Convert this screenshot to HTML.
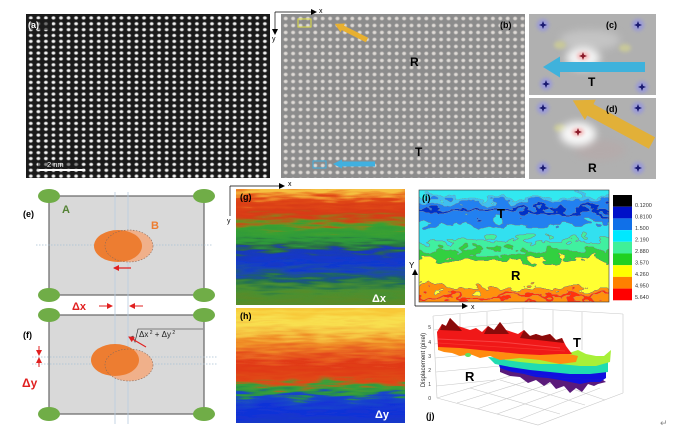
<!DOCTYPE html>
<html><head><meta charset="utf-8"><style>
html,body{margin:0;padding:0;background:#fff;}
svg{display:block;}
text{font-family:"Liberation Sans",Arial,sans-serif;}
</style></head><body>
<svg width="673" height="434" viewBox="0 0 673 434" xmlns="http://www.w3.org/2000/svg">
<defs>
 <radialGradient id="dA"><stop offset="0" stop-color="#fff"/><stop offset="0.45" stop-color="#ececec"/><stop offset="0.75" stop-color="#707070"/><stop offset="1" stop-color="#1c1c1c" stop-opacity="0"/></radialGradient>
 <pattern id="latA" x="27" y="15" width="7.55" height="5.86" patternUnits="userSpaceOnUse">
   <rect width="7.55" height="5.86" fill="#1a1a1a"/>
   <ellipse cx="3.8" cy="2.9" rx="2.7" ry="2.3" fill="url(#dA)"/>
 </pattern>
 <radialGradient id="dB"><stop offset="0" stop-color="#e8e4e0"/><stop offset="0.55" stop-color="#cfcbc7"/><stop offset="1" stop-color="#8e8e8e" stop-opacity="0"/></radialGradient>
 <pattern id="latB" x="282" y="15" width="7.4" height="7.0" patternUnits="userSpaceOnUse">
   <rect width="7.4" height="7.0" fill="#8c8c8c"/>
   <ellipse cx="3.7" cy="3.5" rx="2.9" ry="2.7" fill="url(#dB)"/>
 </pattern>

 <linearGradient id="gG" gradientUnits="userSpaceOnUse" x1="0" y1="189" x2="0" y2="305">
  <stop offset="0" stop-color="#f5c040"/><stop offset="0.05" stop-color="#ee8a2a"/>
  <stop offset="0.1" stop-color="#e04818"/><stop offset="0.2" stop-color="#d83a14"/>
  <stop offset="0.26" stop-color="#b85a18"/><stop offset="0.3" stop-color="#7a8a20"/>
  <stop offset="0.34" stop-color="#3aa032"/><stop offset="0.44" stop-color="#2e9a3a"/>
  <stop offset="0.5" stop-color="#2a6a48"/><stop offset="0.54" stop-color="#1a3ab8"/>
  <stop offset="0.64" stop-color="#1038d0"/><stop offset="0.7" stop-color="#1a48b0"/>
  <stop offset="0.76" stop-color="#1a5a78"/><stop offset="0.8" stop-color="#2a7848"/>
  <stop offset="0.88" stop-color="#4a9030"/><stop offset="1" stop-color="#5a8a28"/>
 </linearGradient>
 <linearGradient id="gH" gradientUnits="userSpaceOnUse" x1="0" y1="308" x2="0" y2="423">
  <stop offset="0" stop-color="#f8c838"/><stop offset="0.12" stop-color="#f8e050"/>
  <stop offset="0.22" stop-color="#f5c040"/><stop offset="0.3" stop-color="#f09028"/>
  <stop offset="0.4" stop-color="#e86020"/><stop offset="0.5" stop-color="#e03818"/>
  <stop offset="0.62" stop-color="#e04818"/><stop offset="0.66" stop-color="#a07020"/>
  <stop offset="0.69" stop-color="#3aa038"/><stop offset="0.74" stop-color="#28904a"/>
  <stop offset="0.78" stop-color="#1a48c8"/><stop offset="0.9" stop-color="#1030d8"/>
  <stop offset="1" stop-color="#1838c8"/>
 </linearGradient>
 <linearGradient id="gI" gradientUnits="userSpaceOnUse" x1="0" y1="190" x2="0" y2="302">
  <stop offset="0" stop-color="#30e8f0"/><stop offset="0.06" stop-color="#30e8f0"/>
  <stop offset="0.06" stop-color="#40c0f0"/><stop offset="0.1" stop-color="#40c0f0"/>
  <stop offset="0.1" stop-color="#2080f0"/><stop offset="0.17" stop-color="#2080f0"/>
  <stop offset="0.17" stop-color="#0030c8"/><stop offset="0.2" stop-color="#0030c8"/>
  <stop offset="0.2" stop-color="#2080f0"/><stop offset="0.3" stop-color="#2080f0"/>
  <stop offset="0.3" stop-color="#30e0f0"/><stop offset="0.45" stop-color="#30e0f0"/>
  <stop offset="0.45" stop-color="#40f0a0"/><stop offset="0.54" stop-color="#40f0a0"/>
  <stop offset="0.54" stop-color="#30d040"/><stop offset="0.62" stop-color="#30d040"/>
  <stop offset="0.62" stop-color="#ffff30"/><stop offset="0.88" stop-color="#ffff30"/>
  <stop offset="0.88" stop-color="#ff9010"/><stop offset="0.94" stop-color="#ff9010"/>
  <stop offset="0.94" stop-color="#ff3010"/><stop offset="0.97" stop-color="#ff3010"/>
  <stop offset="0.97" stop-color="#ff9010"/><stop offset="1" stop-color="#ff9010"/>
 </linearGradient>

 <filter id="fG" filterUnits="userSpaceOnUse" x="220" y="175" width="200" height="140">
  <feTurbulence type="fractalNoise" baseFrequency="0.035 0.3" numOctaves="2" seed="2" result="n"/>
  <feDisplacementMap in="SourceGraphic" in2="n" scale="24" xChannelSelector="R" yChannelSelector="G"/>
 </filter>
 <filter id="fH" filterUnits="userSpaceOnUse" x="220" y="295" width="200" height="140">
  <feTurbulence type="fractalNoise" baseFrequency="0.035 0.3" numOctaves="2" seed="7" result="n"/>
  <feDisplacementMap in="SourceGraphic" in2="n" scale="24" xChannelSelector="R" yChannelSelector="G"/>
 </filter>
 <filter id="fI" filterUnits="userSpaceOnUse" x="405" y="175" width="220" height="140">
  <feTurbulence type="fractalNoise" baseFrequency="0.055 0.1" numOctaves="3" seed="4" result="n"/>
  <feDisplacementMap in="SourceGraphic" in2="n" scale="28" xChannelSelector="R" yChannelSelector="G" result="d"/>
  <feConvolveMatrix in="d" order="3" kernelMatrix="0 -1 0 -1 4 -1 0 -1 0" preserveAlpha="true" result="e"/>
  <feColorMatrix in="e" type="matrix" values="0 0 0 0 0.2  0 0 0 0 0.2  0 0 0 0 0.2  1.5 1.5 1.5 0 0" result="lines"/>
  <feComposite in="lines" in2="d" operator="over"/>
 </filter>
 <filter id="bl4" x="-50%" y="-50%" width="200%" height="200%"><feGaussianBlur stdDeviation="4"/></filter>
 <filter id="bl2" x="-50%" y="-50%" width="200%" height="200%"><feGaussianBlur stdDeviation="1.8"/></filter>

 <clipPath id="cG"><rect x="236" y="189" width="169" height="116"/></clipPath>
 <clipPath id="cH"><rect x="236" y="308" width="169" height="115"/></clipPath>
 <clipPath id="cI"><rect x="419" y="190" width="190" height="112"/></clipPath>
 <clipPath id="cC"><rect x="529" y="14" width="127" height="81"/></clipPath>
 <clipPath id="cD"><rect x="529" y="98" width="127" height="81"/></clipPath>
 <path id="star" d="M0,-4 L1.1,-1.1 L4,0 L1.1,1.1 L0,4 L-1.1,1.1 L-4,0 L-1.1,-1.1Z"/>
 <marker id="ah" markerWidth="6" markerHeight="6" refX="5" refY="3" orient="auto" markerUnits="userSpaceOnUse"><path d="M0,0 L6,3 L0,6Z" fill="#000"/></marker>
 <marker id="ahr" markerWidth="6" markerHeight="6" refX="5" refY="3" orient="auto" markerUnits="userSpaceOnUse"><path d="M0,0 L6,3 L0,6Z" fill="#e02020"/></marker>
</defs>

<rect width="673" height="434" fill="#fff"/>

<!-- (a) -->
<rect x="26" y="14" width="244" height="164" fill="url(#latA)"/>
<rect x="27" y="19" width="25" height="11" fill="#1a1a1a" opacity="0.6"/>
<text x="28" y="28" font-size="9" font-weight="bold" fill="#fff">(a)</text>
<rect x="38" y="162" width="40" height="7" fill="#1a1a1a" opacity="0.5"/>
<text x="47" y="167" font-size="7.5" fill="#fff">2 nm</text>
<rect x="39" y="169" width="46" height="2" fill="#fff"/>

<!-- (b) -->
<rect x="281" y="14" width="244" height="164" fill="url(#latB)"/>
<line x1="275" y1="12" x2="316" y2="12" stroke="#000" stroke-width="0.7" marker-end="url(#ah)"/>
<line x1="275" y1="12" x2="275" y2="34" stroke="#000" stroke-width="0.7" marker-end="url(#ah)"/>
<text x="319" y="13" font-size="7">x</text>
<text x="272" y="41" font-size="7">y</text>
<rect x="298" y="19" width="13" height="8" fill="none" stroke="#dede40" stroke-width="1"/>
<rect x="313" y="161" width="13" height="7" fill="none" stroke="#40b0e0" stroke-width="1"/>
<g transform="translate(367,40) rotate(206.6)"><path d="M0,-2.5 L27,-2.5 L27,-5 L36,0 L27,5 L27,2.5 L0,2.5Z" fill="#e8b030"/></g>
<g transform="translate(375,164) rotate(180)"><path d="M0,-2.5 L33,-2.5 L33,-4.5 L42,0 L33,4.5 L33,2.5 L0,2.5Z" fill="#40b0e0"/></g>
<text x="500" y="28" font-size="9" font-weight="bold">(b)</text>
<text x="410" y="66" font-size="12" font-weight="bold">R</text>
<text x="415" y="156" font-size="12" font-weight="bold">T</text>

<!-- (c) -->
<g clip-path="url(#cC)">
 <rect x="529" y="14" width="127" height="81" fill="#b0b0b0"/>
 <ellipse cx="590" cy="40" rx="30" ry="10" fill="#c4c4c4" filter="url(#bl4)"/>
 <ellipse cx="560" cy="45" rx="6" ry="4" fill="#c8c89a" filter="url(#bl2)"/>
 <ellipse cx="625" cy="48" rx="6" ry="4" fill="#c8c89a" filter="url(#bl2)"/>
 <ellipse cx="583" cy="58" rx="17" ry="11" fill="#fff" opacity="0.85" filter="url(#bl4)"/>
 <ellipse cx="583" cy="56" rx="6" ry="4" fill="#f4b8b8" filter="url(#bl2)"/>
 <circle cx="543" cy="25" r="6" fill="#9a9ad8" filter="url(#bl2)"/>
 <circle cx="638" cy="25" r="6" fill="#9a9ad8" filter="url(#bl2)"/>
 <circle cx="546" cy="84" r="6" fill="#9a9ad8" filter="url(#bl2)"/>
 <circle cx="642" cy="87" r="6" fill="#9a9ad8" filter="url(#bl2)"/>
 <path d="M543,67 L560,56.5 L560,62 L645,62 L645,72 L560,72 L560,77.5Z" fill="#3fb2dc"/>
 <use href="#star" x="543" y="25" fill="#1a1a70"/>
 <use href="#star" x="638" y="25" fill="#1a1a70"/>
 <use href="#star" x="546" y="84" fill="#1a1a70"/>
 <use href="#star" x="642" y="87" fill="#1a1a70"/>
 <use href="#star" x="583" y="56" fill="#8a1a2a"/>
</g>
<text x="606" y="28" font-size="9" font-weight="bold">(c)</text>
<text x="588" y="86" font-size="12" font-weight="bold">T</text>

<!-- (d) -->
<g clip-path="url(#cD)">
 <rect x="529" y="98" width="127" height="81" fill="#b0b0b0"/>
 <ellipse cx="600" cy="150" rx="25" ry="10" fill="#b8a8a8" opacity="0.6" filter="url(#bl4)"/>
 <ellipse cx="560" cy="128" rx="6" ry="4" fill="#c8c89a" filter="url(#bl2)"/>
 <ellipse cx="578" cy="134" rx="18" ry="12" fill="#fff" opacity="0.9" filter="url(#bl4)"/>
 <ellipse cx="578" cy="132" rx="6" ry="4" fill="#f4b8b8" filter="url(#bl2)"/>
 <circle cx="543" cy="108" r="6" fill="#9a9ad8" filter="url(#bl2)"/>
 <circle cx="638" cy="108" r="6" fill="#9a9ad8" filter="url(#bl2)"/>
 <circle cx="543" cy="168" r="6" fill="#9a9ad8" filter="url(#bl2)"/>
 <circle cx="638" cy="168" r="6" fill="#9a9ad8" filter="url(#bl2)"/>
 <g transform="translate(652,143) rotate(208.3)"><path d="M0,-6.5 L70,-6.5 L70,-11.5 L90,0 L70,11.5 L70,6.5 L0,6.5Z" fill="#e2b038"/></g>
 <use href="#star" x="543" y="108" fill="#1a1a70"/>
 <use href="#star" x="638" y="108" fill="#1a1a70"/>
 <use href="#star" x="543" y="168" fill="#1a1a70"/>
 <use href="#star" x="638" y="168" fill="#1a1a70"/>
 <use href="#star" x="578" y="132" fill="#8a1a2a"/>
</g>
<text x="606" y="112" font-size="9" font-weight="bold">(d)</text>
<text x="588" y="172" font-size="12" font-weight="bold">R</text>

<!-- (e) & (f) -->
<rect x="49" y="196" width="155" height="99" fill="#d9d9d9" stroke="#707070" stroke-width="1.3"/>
<rect x="49" y="315" width="155" height="99" fill="#d9d9d9" stroke="#707070" stroke-width="1.3"/>
<line x1="115" y1="192" x2="115" y2="424" stroke="#b8cce0" stroke-width="0.8"/>
<line x1="128" y1="192" x2="128" y2="424" stroke="#b8cce0" stroke-width="0.8"/>
<line x1="36" y1="245" x2="212" y2="245" stroke="#a8c0d4" stroke-width="0.7" stroke-dasharray="1.5,1.5"/>
<line x1="32" y1="357" x2="217" y2="357" stroke="#a8c0d4" stroke-width="0.7" stroke-dasharray="1.5,1.5"/>
<line x1="32" y1="364" x2="217" y2="364" stroke="#a8c0d4" stroke-width="0.7" stroke-dasharray="1.5,1.5"/>
<g fill="#70ad47">
 <ellipse cx="49" cy="196" rx="11" ry="7"/><ellipse cx="204" cy="196" rx="11" ry="7"/>
 <ellipse cx="49" cy="295" rx="11" ry="7"/><ellipse cx="204" cy="295" rx="11" ry="7"/>
 <ellipse cx="49" cy="315" rx="11" ry="7"/><ellipse cx="204" cy="315" rx="11" ry="7"/>
 <ellipse cx="49" cy="414" rx="11" ry="7"/><ellipse cx="204" cy="414" rx="11" ry="7"/>
</g>
<ellipse cx="129" cy="246" rx="24" ry="16" fill="#f0b08a"/>
<ellipse cx="118" cy="246" rx="24" ry="16" fill="#ed7d31"/>
<ellipse cx="129" cy="246" rx="24" ry="16" fill="none" stroke="#8a6a5a" stroke-width="0.6" stroke-dasharray="1.5,1.5"/>
<ellipse cx="129" cy="365" rx="24" ry="16" fill="#f0b08a"/>
<ellipse cx="115" cy="360" rx="24" ry="16" fill="#ed7d31"/>
<ellipse cx="129" cy="365" rx="24" ry="16" fill="none" stroke="#8a6a5a" stroke-width="0.6" stroke-dasharray="1.5,1.5"/>
<line x1="131" y1="268" x2="114" y2="268" stroke="#e02020" stroke-width="1.2" marker-end="url(#ahr)"/>
<text x="23" y="217" font-size="9" font-weight="bold">(e)</text>
<text x="62" y="213" font-size="11" font-weight="bold" fill="#548235">A</text>
<text x="151" y="229" font-size="11" font-weight="bold" fill="#ed7d31">B</text>
<text x="72" y="310" font-size="11" font-weight="bold" fill="#e02020">Δx</text>
<line x1="99" y1="306" x2="112" y2="306" stroke="#e02020" stroke-width="1" marker-end="url(#ahr)"/>
<line x1="143" y1="306" x2="130" y2="306" stroke="#e02020" stroke-width="1" marker-end="url(#ahr)"/>
<text x="23" y="338" font-size="9" font-weight="bold">(f)</text>
<text x="22" y="387" font-size="12" font-weight="bold" fill="#e02020">Δy</text>
<line x1="39" y1="346" x2="39" y2="355" stroke="#e02020" stroke-width="1" marker-end="url(#ahr)"/>
<line x1="39" y1="367" x2="39" y2="358" stroke="#e02020" stroke-width="1" marker-end="url(#ahr)"/>
<path d="M131,337 L133,336 L135,342 L138,329 L203,329" fill="none" stroke="#222" stroke-width="0.6"/>
<text x="139" y="337" font-family="Liberation Serif,serif" font-size="8" fill="#222">Δx<tspan font-size="5" dy="-3"> 2</tspan><tspan dy="3"> + Δy</tspan><tspan font-size="5" dy="-3"> 2</tspan></text>
<line x1="146" y1="347" x2="129" y2="337" stroke="#e02020" stroke-width="1.1" marker-end="url(#ahr)"/>

<!-- (g) -->
<g clip-path="url(#cG)"><rect x="220" y="175" width="200" height="140" fill="url(#gG)" filter="url(#fG)"/></g>
<line x1="230" y1="186" x2="284" y2="186" stroke="#000" stroke-width="0.7" marker-end="url(#ah)"/>
<line x1="230" y1="186" x2="230" y2="216" stroke="#000" stroke-width="0.7"/>
<text x="288" y="186" font-size="7">x</text>
<text x="227" y="223" font-size="7">y</text>
<text x="240" y="200" font-size="9" font-weight="bold">(g)</text>
<text x="372" y="302" font-size="11" font-weight="bold" fill="#fff">Δx</text>

<!-- (h) -->
<g clip-path="url(#cH)"><rect x="220" y="295" width="200" height="140" fill="url(#gH)" filter="url(#fH)"/></g>
<text x="240" y="319" font-size="9" font-weight="bold">(h)</text>
<text x="375" y="418" font-size="11" font-weight="bold" fill="#fff">Δy</text>

<!-- (i) -->
<g clip-path="url(#cI)"><rect x="405" y="175" width="220" height="140" fill="url(#gI)" filter="url(#fI)"/></g>
<rect x="419" y="190" width="190" height="112" fill="none" stroke="#333" stroke-width="0.6"/>
<text x="422" y="201" font-size="9" font-weight="bold">(i)</text>
<text x="497" y="218" font-size="13" font-weight="bold">T</text>
<text x="511" y="280" font-size="13" font-weight="bold">R</text>
<line x1="415" y1="306" x2="415" y2="270" stroke="#000" stroke-width="0.7" marker-end="url(#ah)"/>
<line x1="415" y1="306" x2="467" y2="306" stroke="#000" stroke-width="0.7" marker-end="url(#ah)"/>
<text x="409" y="268" font-size="8">Y</text>
<text x="471" y="309" font-size="7">x</text>
<g>
 <rect x="613" y="195" width="19" height="11.7" fill="#000"/>
 <rect x="613" y="206.7" width="19" height="11.7" fill="#0010c8"/>
 <rect x="613" y="218.4" width="19" height="11.7" fill="#1070e8"/>
 <rect x="613" y="230.1" width="19" height="11.7" fill="#00e8ff"/>
 <rect x="613" y="241.8" width="19" height="11.7" fill="#40f098"/>
 <rect x="613" y="253.5" width="19" height="11.7" fill="#20d020"/>
 <rect x="613" y="265.2" width="19" height="11.7" fill="#ffff00"/>
 <rect x="613" y="276.9" width="19" height="11.7" fill="#ff8000"/>
 <rect x="613" y="288.6" width="19" height="11.7" fill="#ff0000"/>
</g>
<g font-size="5.5" fill="#333">
 <text x="635" y="207">0.1200</text><text x="635" y="218.5">0.8100</text>
 <text x="635" y="230">1.500</text><text x="635" y="241.5">2.190</text>
 <text x="635" y="253">2.880</text><text x="635" y="264.5">3.570</text>
 <text x="635" y="276">4.260</text><text x="635" y="287.5">4.950</text>
 <text x="635" y="299">5.640</text>
</g>

<!-- (j) 3D surface -->
<g stroke="#c8c8c8" stroke-width="0.6" fill="none">
 <path d="M433,316 L523,308 L623,314"/>
 <path d="M433,316 L437,398"/>
 <path d="M623,314 L623,393"/>
 <path d="M437,398 L538,425 L623,393"/>
 <path d="M460,314 L460,340 M487,312 L487,335 M523,308 L523,340 M553,310 L553,345 M582,312 L582,350"/>
 <path d="M434,330 L523,322 M434,344 L523,336 M435,358 L523,350 M436,372 L500,366 M436,386 L495,380"/>
 <path d="M437,398 L523,372 M457,403 L540,377 M477,409 L560,380 M497,414 L580,384 M518,420 L600,388"/>
 <path d="M470,388 L560,414 M500,380 L585,405 M523,372 L605,400"/>
</g>
<g font-size="5" fill="#333" text-anchor="end">
 <text x="431" y="400">0</text><text x="431" y="386">1</text><text x="431" y="372">2</text>
 <text x="431" y="358">3</text><text x="431" y="344">4</text><text x="431" y="329">5</text>
</g>
<text transform="translate(425,360) rotate(-90)" font-size="6" text-anchor="middle" fill="#222">Displacement (pixel)</text>
<path d="M500,368 L520,372 L560,376 L600,378 L606,382 L598,384 L594,386 L588,384 L582,392 L576,388 L570,393 L564,386 L556,389 L550,382 L544,386 L536,380 L528,383 L520,377 L510,376 L500,372 Z" fill="#5a1a7a"/>
<path d="M498,362 L530,366 L570,370 L606,370 L606,378 L600,382 L590,382 L580,384 L570,382 L560,380 L548,378 L536,377 L524,374 L512,372 L500,368 Z" fill="#1010e0"/>
<path d="M488,357 L530,360 L570,362 L608,362 L608,372 L590,374 L570,374 L550,372 L530,370 L510,367 L495,364 Z" fill="#20dcb0"/>
<path d="M500,355 L560,356 L572,352 L578,350 L586,354 L596,356 L604,356 L611,350 L610,362 L596,366 L580,366 L560,364 L540,364 L520,362 L505,360 Z" fill="#a8f038"/>
<path d="M438,345 L470,348 L500,352 L530,354 L560,352 L578,356 L576,362 L560,364 L540,360 L520,358 L500,360 L490,356 L480,358 L470,354 L460,356 L452,353 L444,352 L438,350 Z" fill="#ff8c10"/>
<ellipse cx="468" cy="355" rx="3" ry="2" fill="#60e060"/>
<path d="M437,332 L442,324 L446,326 L450,318 L454,322 L458,326 L464,328 L470,330 L476,328 L482,332 L488,326 L494,330 L500,322 L506,330 L512,332 L518,334 L524,330 L530,336 L536,334 L542,336 L550,334 L556,340 L562,338 L566,346 L572,354 L560,354 L540,355 L520,354 L500,352 L480,350 L460,348 L438,347 Z" fill="#f01818"/>
<path d="M440,330 L442,324 L446,326 L450,318 L454,322 L458,326 L462,331 Z M484,334 L488,326 L494,330 L500,322 L506,330 L509,334 Z M520,338 L524,330 L530,336 L536,334 L542,336 L550,334 L556,340 L562,338 L564,343 Z" fill="#8a0a0a"/>
<path d="M438,339 L500,342 L560,348" stroke="#ff6060" stroke-width="1" fill="none" opacity="0.6"/>
<path d="M438,343 L500,347 L565,351" stroke="#ff5040" stroke-width="0.8" fill="none" opacity="0.5"/>
<path d="M500,370 L560,378 L604,380" stroke="#2a2ab0" stroke-width="0.6" fill="none" opacity="0.4"/>
<text x="573" y="347" font-size="13" font-weight="bold">T</text>
<text x="465" y="381" font-size="13" font-weight="bold">R</text>
<text x="426" y="419" font-size="9" font-weight="bold">(j)</text>
<text x="660" y="426" font-size="9" fill="#888">↵</text>
</svg>
</body></html>
